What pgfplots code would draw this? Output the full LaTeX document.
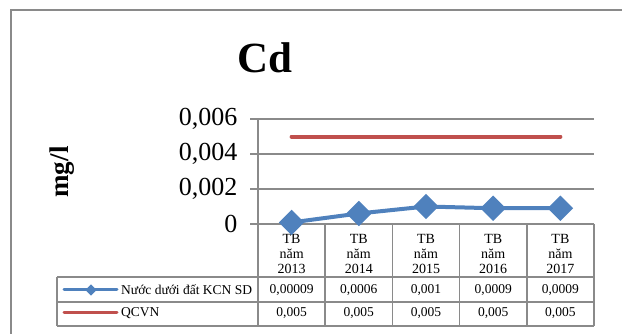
\documentclass[border=0pt]{standalone}
\usepackage{fontspec}
\setmainfont{Liberation Serif}
\usepackage{pgfplots}
\pgfplotsset{compat=1.18}

\definecolor{serblue}{HTML}{4F81BD}
\definecolor{serred}{HTML}{C0504D}
\definecolor{gline}{HTML}{8A8A8A}

\begin{document}
\begin{tikzpicture}[x=1pt,y=1pt]
\useasboundingbox (0,0) rectangle (622,334);
% outer chart frame (cut off at right and bottom)
\draw[gline, line width=1.5pt] (11,0) -- (11,324) -- (622,324);

% title and y label
\node[font=\fontsize{43}{43}\selectfont\bfseries] at (265,276) {Cd};
\node[rotate=90, font=\fontsize{27}{27}\selectfont\bfseries] at (62,162) {mg/l};

\begin{axis}[
    at={(258pt,110pt)}, anchor=south west,
    scale only axis,
    width=336pt, height=105pt,
    xmin=0.5, xmax=5.5,
    ymin=0, ymax=0.006,
    axis x line*=bottom,
    axis y line*=left,
    axis line style={gline, line width=1.5pt, -},
    xtick=data,
    xticklabels={{TB\\năm\\2013},{TB\\năm\\2014},{TB\\năm\\2015},{TB\\năm\\2016},{TB\\năm\\2017}},
    x tick label style={align=center, font=\fontsize{14}{15}\selectfont, yshift=1pt},
    major x tick style={draw=none},
    ytick={0,0.002,0.004,0.006},
    scaled y ticks=false,
    yticklabel style={font=\fontsize{26}{26}\selectfont, xshift=-9pt},
    /pgf/number format/.cd, fixed, use comma, precision=3, assume math mode=true,
    /pgfplots/.cd,
    tick align=outside,
    major tick length=8pt,
    major y tick style={gline, line width=1.5pt},
    ymajorgrids,
    grid style={gline, line width=1.5pt},
    clip=false,
]
\addplot[serred, line width=4pt, line cap=round, mark=none]
    coordinates {(1,0.005) (2,0.005) (3,0.005) (4,0.005) (5,0.005)};
\addplot[serblue, line width=4pt, mark=square*, mark size=7pt,
    mark options={rotate=45, solid}]
    coordinates {(1,0.00009) (2,0.0006) (3,0.001) (4,0.0009) (5,0.0009)};
\end{axis}

% data table below the axis
\begin{scope}[gline, line width=1.5pt]
\draw (57,57) -- (594,57);
\draw (57,32) -- (594,32);
\draw (57,8) -- (594,8);
\draw (57,57) -- (57,8);
\foreach \xx in {258,325.2,392.4,459.6,526.8,594} {
    \draw (\xx,110) -- (\xx,8);
}
\end{scope}

% legend keys
\draw[serblue, line width=3pt, line cap=round] (64,44) -- (117,44);
\node[serblue, fill=serblue, rotate=45, minimum size=8pt, inner sep=0pt] at (91,44) {};
\draw[serred, line width=3pt, line cap=round] (64,21) -- (117,21);
\node[anchor=west, font=\fontsize{13.5}{15}\selectfont, inner sep=0pt] at (121,44) {Nước dưới đất KCN SD};
\node[anchor=west, font=\fontsize{13.5}{15}\selectfont, inner sep=0pt] at (121,21) {QCVN};

% table values
\foreach \v [count=\i] in {0{,}00009,0{,}0006,0{,}001,0{,}0009,0{,}0009} {
    \node[font=\fontsize{13.5}{15}\selectfont] at (258+67.2*\i-33.6,44) {\v};
}
\foreach \v [count=\i] in {0{,}005,0{,}005,0{,}005,0{,}005,0{,}005} {
    \node[font=\fontsize{13.5}{15}\selectfont] at (258+67.2*\i-33.6,21) {\v};
}
\end{tikzpicture}
\end{document}
